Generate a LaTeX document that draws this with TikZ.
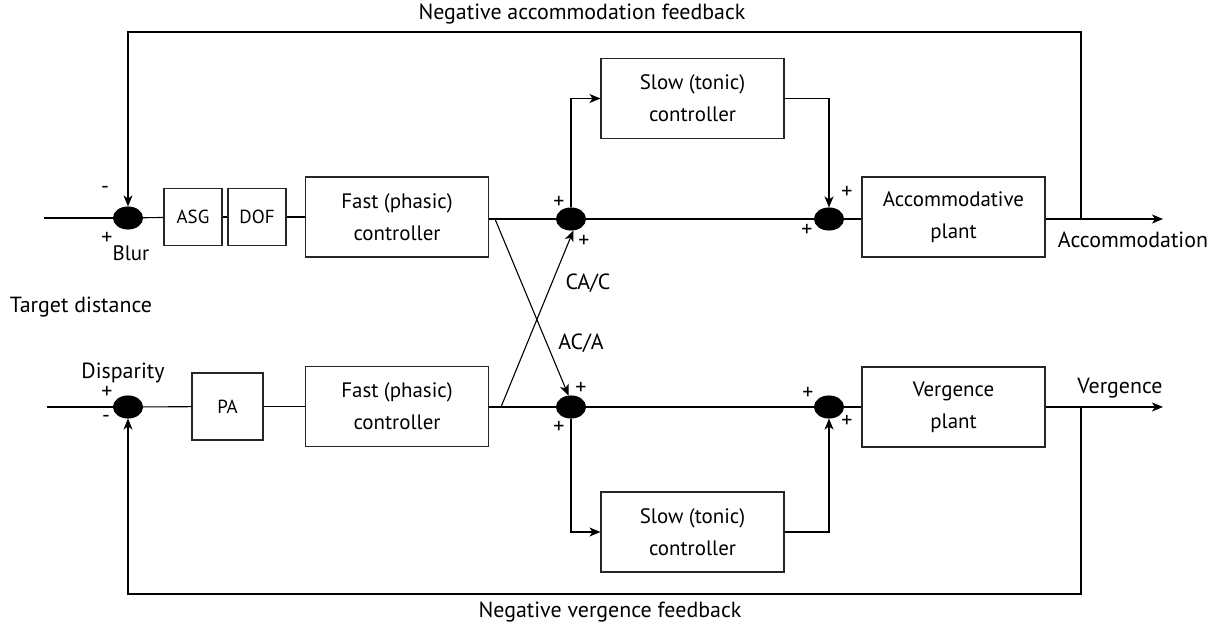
\documentclass[tikz,border=0pt]{standalone}
\usepackage{fontspec}
\setmainfont{PT Sans}
\usetikzlibrary{shapes.geometric,arrows.meta,calc}
\begin{document}
\begin{tikzpicture}[x=1bp,y=-1bp,
  line width=1.1bp,
  every node/.style={font=\fontsize{22}{26}\selectfont},
  blk/.style={draw=black!85, line width=1.1bp, rectangle, inner sep=0pt, align=center,
     font=\fontsize{21}{32}\selectfont},
  bigblk/.style={blk, minimum width=183bp, minimum height=80bp},
  smallblk/.style={blk, minimum width=58bp, minimum height=57bp, font=\fontsize{19}{22}\selectfont},
  sumj/.style={ellipse, fill=black, draw=black, inner sep=0pt, minimum width=29bp, minimum height=22bp},
  arr/.style={-{Stealth[length=11bp,width=9bp,inset=3bp]}},
  sgn/.style={font=\fontsize{22}{24}\selectfont, inner sep=0pt},
  lbl/.style={inner sep=0pt}
]
\useasboundingbox (0,0) rectangle (1217,627);

% top row
\node[sumj] (sumA) at (128,218) {};
\node[smallblk] (asg) at (193,217) {ASG};
\node[smallblk] (dof) at (257,217) {DOF};
\node[bigblk] (fastA) at (397,217) {Fast (phasic)\\controller};
\node[sumj] (sumB) at (571,219) {};
\node[bigblk] (slowA) at (692.5,98.5) {Slow (tonic)\\controller};
\node[sumj] (sumC) at (829,219) {};
\node[bigblk] (plantA) at (953.5,217) {Accommodative\\plant};

% bottom row
\node[sumj] (sumD) at (128,407) {};
\node[blk, minimum width=71bp, minimum height=67bp, font=\fontsize{19}{22}\selectfont] (pa) at (227.5,406.5) {PA};
\node[bigblk] (fastV) at (397,406.5) {Fast (phasic)\\controller};
\node[sumj] (sumE) at (571,407) {};
\node[bigblk] (slowV) at (692.5,532) {Slow (tonic)\\controller};
\node[sumj] (sumF) at (829,407) {};
\node[bigblk] (plantV) at (953.5,407) {Vergence\\plant};

% coordinates
\coordinate (inA) at (44,218);
\coordinate (inV) at (47,407);
\coordinate (outA) at (1163,219);
\coordinate (outV) at (1163,407);
\coordinate (fbA) at (1081,219);
\coordinate (fbV) at (1081,407);
\coordinate (topy) at (0,32);
\coordinate (boty) at (0,594);
\coordinate (xA) at (495,219);
\coordinate (xV) at (501,407);

% top connectors
\draw (inA) -- (sumA);
\draw (sumA) -- (asg);
\draw (asg) -- (dof);
\draw (dof) -- (fastA);
\draw (fastA.east |- sumB) -- (sumB);
\draw (sumB) -- (sumC);
\draw (sumC) -- (plantA.west |- sumC);
\draw[arr] (plantA.east |- outA) -- (outA);
\draw[arr] (fbA) -- (fbA |- topy) -| (sumA.north);
\draw[arr] (sumB.north) |- (slowA.west);
\draw[arr] (slowA.east) -| (sumC.north);

% bottom connectors
\draw (inV) -- (sumD);
\draw (sumD) -- (pa);
\draw (pa) -- (fastV.west |- pa);
\draw (fastV.east |- sumE) -- (sumE);
\draw (sumE) -- (sumF);
\draw (sumF) -- (plantV.west |- sumF);
\draw[arr] (plantV.east |- outV) -- (outV);
\draw[arr] (fbV) -- (fbV |- boty) -| (sumD.south);
\draw[arr] (sumE.south) |- (slowV.west);
\draw[arr] (slowV.east) -| (sumF.south);

% cross couplings
\draw[arr] (xA) -- (sumE.102);
\draw[arr] (xV) -- (sumB.-78);

% labels
\node[lbl] (nAF) at (582,14) {Negative accommodation feedback};
\node[lbl] (nVF) at (610,612) {Negative vergence feedback};
\node[lbl] (tdist) at (81,307) {Target distance};
\node[lbl, font=\fontsize{21}{24}\selectfont] (blur) at (131,253) {Blur};
\node[lbl] (disp) at (123,373) {Disparity};
\node[lbl] (cac) at (588,283) {CA/C};
\node[lbl] (aca) at (581,343) {AC/A};
\node[lbl] (acc) at (1133,240) {Accommodation};
\node[lbl] (verg) at (1120,388) {Vergence};

\node[sgn] (sA1) at (105,190) {-};
\node[sgn] (sA2) at (107,238) {+};
\node[sgn] (sD1) at (107,392) {+};
\node[sgn] (sD2) at (106,419) {-};
\node[sgn] (sB1) at (559,202) {+};
\node[sgn] (sB2) at (584,241) {+};
\node[sgn] (sE1) at (581,388) {+};
\node[sgn] (sE2) at (559,427) {+};
\node[sgn] (sC1) at (847,192) {+};
\node[sgn] (sC2) at (807,230) {+};
\node[sgn] (sF1) at (808,393) {+};
\node[sgn] (sF2) at (847,421) {+};
\end{tikzpicture}
\end{document}
